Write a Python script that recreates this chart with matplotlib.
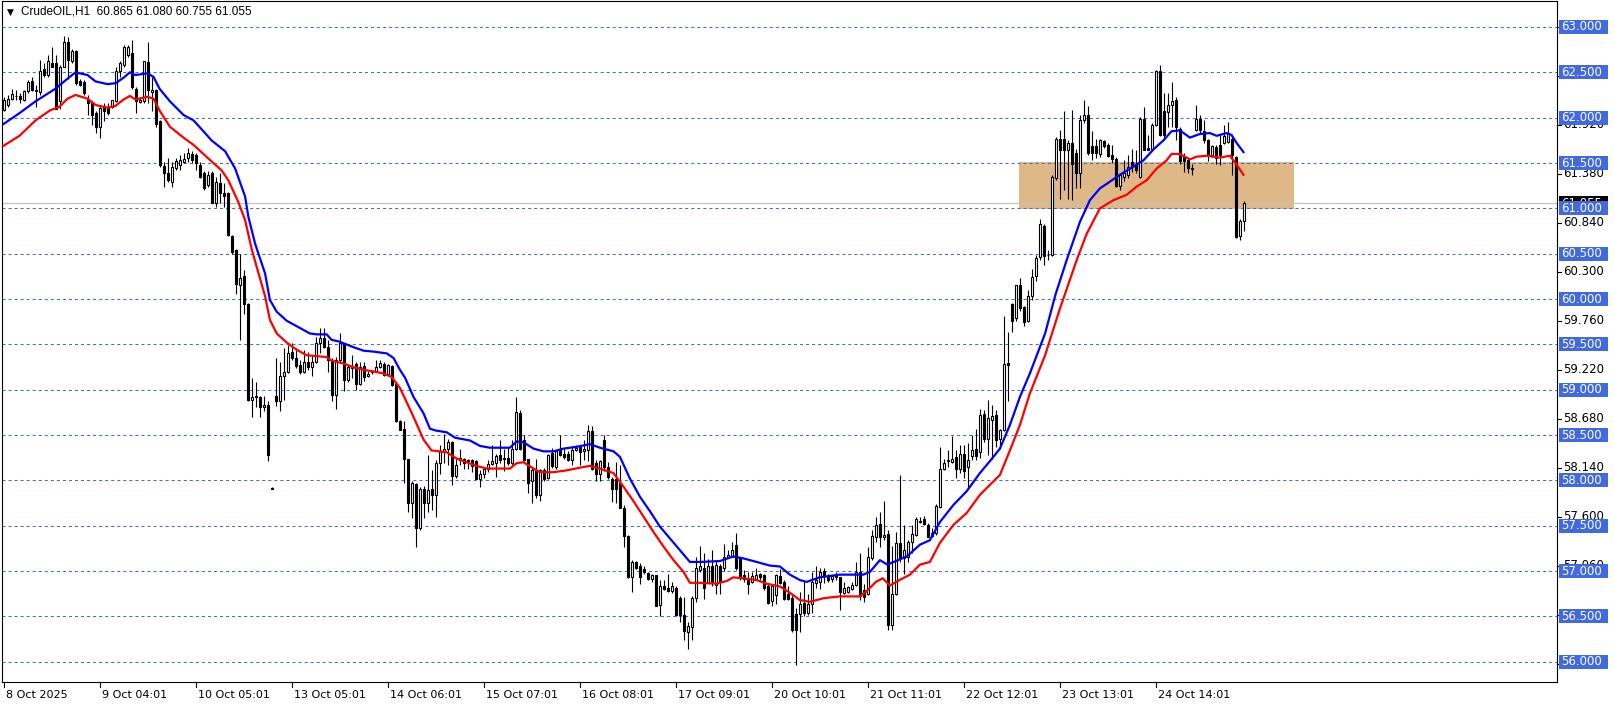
import matplotlib
matplotlib.use("Agg")
import matplotlib.pyplot as plt
import matplotlib.transforms as mtransforms
from matplotlib.patches import Rectangle
import numpy as np

# ---------------- data ----------------
title = "CrudeOIL,H1  60.865 61.080 60.755 61.055"

opens = [
    62.09, 62.14, 62.21, 62.24, 62.24, 62.20, 62.29, 62.40, 62.29, 62.28,
    62.54, 62.47, 62.60, 62.60, 62.18, 62.56, 62.84, 62.63, 62.73, 62.40,
    62.39, 62.21, 62.16, 62.05, 61.90, 62.13, 62.11, 62.12, 62.18, 62.51,
    62.58, 62.69, 62.71, 62.32, 62.17, 62.18, 62.61, 62.28, 62.31, 61.96,
    61.47, 61.39, 61.29, 61.45, 61.48, 61.51, 61.55, 61.60, 61.59, 61.48,
    61.39, 61.26, 61.39, 61.06, 61.28, 61.17, 61.17, 60.70, 60.54, 60.15,
    60.25, 59.95, 58.89, 58.93, 58.92, 58.81, 58.83, 57.91, 58.93, 58.87,
    59.15, 59.19, 59.42, 59.35, 59.27, 59.19, 59.31, 59.25, 59.31, 59.52,
    59.57, 59.47, 59.33, 58.94, 59.33, 59.50, 59.11, 59.24, 59.28, 59.06,
    59.26, 59.15, 59.21, 59.21, 59.25, 59.28, 59.17, 59.26, 59.06, 58.66,
    58.57, 58.23, 57.75, 57.96, 57.47, 57.91, 57.75, 57.90, 57.84, 58.19,
    58.31, 58.35, 58.42, 58.05, 58.25, 58.23, 58.21, 58.22, 58.21, 58.02,
    58.07, 58.12, 58.18, 58.19, 58.28, 58.23, 58.25, 58.19, 58.35, 58.74,
    58.44, 58.23, 57.99, 58.11, 57.84, 58.11, 58.03, 58.30, 58.15, 58.33,
    58.29, 58.29, 58.22, 58.33, 58.37, 58.32, 58.34, 58.54, 58.19, 58.07,
    58.45, 58.15, 58.01, 58.01, 57.97, 57.69, 57.39, 56.93, 57.10, 57.06,
    57.02, 56.98, 56.91, 56.96, 56.62, 56.83, 56.81, 56.78, 56.81, 56.70,
    56.51, 56.33, 56.38, 56.70, 57.01, 57.03, 56.88, 57.05, 56.85, 57.05,
    57.03, 57.16, 57.16, 57.29, 57.14, 56.96, 56.91, 56.88, 56.91, 56.97,
    56.96, 56.83, 56.67, 56.74, 56.95, 56.88, 56.75, 56.70, 56.53, 56.53,
    56.65, 56.54, 56.64, 56.87, 56.88, 57.00, 56.95, 56.91, 56.96, 56.93,
    56.76, 56.77, 56.80, 56.85, 56.99, 56.79, 56.75, 57.14, 57.38, 57.52,
    57.38, 57.41, 56.40, 56.75, 57.31, 57.14, 57.16, 57.32, 57.40, 57.55,
    57.57, 57.51, 57.39, 57.42, 57.71, 58.12, 58.21, 58.20, 58.26, 58.13,
    58.29, 58.15, 58.27, 58.35, 58.31, 58.73, 58.46, 58.67, 58.72, 58.46,
    58.55, 59.29, 59.95, 59.79, 60.15, 59.91, 59.76, 60.03, 60.25, 60.46,
    60.80, 60.48, 60.49, 61.33, 61.77, 61.76, 61.64, 61.72, 61.61, 61.39,
    61.97, 62.03, 61.69, 61.69, 61.60, 61.74, 61.70, 61.59, 61.54, 61.25,
    61.35, 61.37, 61.51, 61.49, 61.35, 61.99, 61.67, 61.65, 61.92, 62.51,
    62.07, 62.06, 62.14, 62.20, 61.87, 61.57, 61.53, 61.45, 61.86, 61.98,
    61.85, 61.75, 61.59, 61.68, 61.70, 61.72, 61.73, 61.77, 61.57, 60.70,
    60.865,
]
highs = [
    62.23, 62.25, 62.32, 62.31, 62.27, 62.31, 62.42, 62.45, 62.36, 62.64,
    62.60, 62.69, 62.78, 62.69, 62.58, 62.90, 62.89, 62.76, 62.75, 62.43,
    62.42, 62.25, 62.18, 62.07, 62.13, 62.16, 62.16, 62.20, 62.56, 62.62,
    62.80, 62.80, 62.86, 62.34, 62.23, 62.63, 62.84, 62.45, 62.32, 61.97,
    61.51, 61.55, 61.51, 61.55, 61.59, 61.61, 61.66, 61.63, 61.61, 61.51,
    61.41, 61.41, 61.41, 61.35, 61.39, 61.28, 61.18, 60.71, 60.55, 60.50,
    60.32, 59.96, 59.13, 59.09, 58.93, 58.93, 58.87, 57.93, 59.35, 59.31,
    59.46, 59.49, 59.52, 59.46, 59.33, 59.44, 59.42, 59.38, 59.58, 59.68,
    59.68, 59.55, 59.35, 59.36, 59.62, 59.52, 59.27, 59.38, 59.31, 59.31,
    59.31, 59.21, 59.22, 59.33, 59.33, 59.31, 59.28, 59.27, 59.07, 58.67,
    58.65, 58.24, 57.99, 57.97, 57.93, 57.94, 58.28, 58.11, 58.22, 58.39,
    58.51, 58.46, 58.43, 58.24, 58.35, 58.25, 58.23, 58.23, 58.22, 58.11,
    58.14, 58.22, 58.39, 58.29, 58.44, 58.35, 58.37, 58.44, 58.92, 58.78,
    58.50, 58.24, 58.14, 58.24, 58.12, 58.14, 58.29, 58.36, 58.33, 58.50,
    58.35, 58.32, 58.38, 58.39, 58.39, 58.45, 58.61, 58.60, 58.22, 58.22,
    58.50, 58.20, 58.04, 58.20, 58.17, 57.73, 57.40, 57.12, 57.11, 57.09,
    57.05, 56.99, 56.97, 56.96, 56.90, 56.90, 56.97, 56.88, 56.83, 56.72,
    56.71, 56.44, 56.72, 57.16, 57.28, 57.20, 57.13, 57.23, 57.12, 57.08,
    57.30, 57.23, 57.32, 57.42, 57.16, 57.01, 56.99, 56.99, 57.03, 56.98,
    56.97, 56.86, 56.86, 56.97, 57.02, 56.90, 56.83, 56.75, 56.59, 56.77,
    56.90, 56.75, 56.99, 57.06, 57.03, 57.03, 56.97, 56.96, 56.99, 56.93,
    56.88, 56.83, 56.88, 57.10, 57.20, 56.86, 57.27, 57.45, 57.60, 57.65,
    57.77, 57.45, 57.28, 57.43, 58.06, 57.51, 57.34, 57.51, 57.60, 57.60,
    57.61, 57.53, 57.47, 57.74, 58.37, 58.24, 58.34, 58.49, 58.33, 58.39,
    58.39, 58.41, 58.50, 58.57, 58.79, 58.78, 58.89, 58.83, 58.78, 58.57,
    59.81, 59.64, 59.96, 60.16, 60.23, 59.92, 60.10, 60.33, 60.49, 60.88,
    60.83, 60.54, 61.37, 61.79, 61.86, 62.07, 61.75, 62.09, 61.65, 62.03,
    62.20, 62.13, 61.85, 61.77, 61.76, 61.75, 61.72, 61.70, 61.57, 61.39,
    61.53, 61.59, 61.65, 61.64, 62.01, 62.12, 61.81, 61.94, 62.53, 62.58,
    62.27, 62.27, 62.39, 62.23, 61.90, 61.61, 61.54, 61.49, 62.14, 62.03,
    61.97, 61.76, 61.70, 61.70, 61.81, 61.92, 61.95, 61.80, 61.58, 60.88,
    61.08,
]
lows = [
    62.07, 62.12, 62.19, 62.19, 62.16, 62.18, 62.27, 62.29, 62.12, 62.25,
    62.45, 62.45, 62.56, 62.10, 62.10, 62.56, 62.43, 62.60, 62.36, 62.35,
    62.25, 62.03, 61.92, 61.83, 61.78, 61.96, 62.03, 62.11, 62.17, 62.45,
    62.56, 62.67, 62.32, 62.05, 62.16, 62.16, 62.16, 62.07, 61.90, 61.46,
    61.24, 61.29, 61.24, 61.42, 61.42, 61.50, 61.51, 61.50, 61.42, 61.33,
    61.20, 61.24, 61.06, 61.02, 61.06, 61.02, 60.69, 60.50, 60.06, 59.55,
    59.84, 58.87, 58.70, 58.81, 58.70, 58.76, 58.21, 57.90, 58.82, 58.76,
    58.89, 59.18, 59.33, 59.24, 59.17, 59.18, 59.22, 59.15, 59.29, 59.40,
    59.46, 59.19, 58.87, 58.79, 59.29, 58.99, 59.08, 59.13, 59.00, 59.05,
    59.10, 59.14, 59.17, 59.20, 59.24, 59.15, 59.16, 59.04, 58.64, 58.55,
    57.97, 57.65, 57.59, 57.27, 57.45, 57.59, 57.65, 57.67, 57.60, 58.07,
    58.19, 58.17, 57.95, 58.03, 58.17, 58.12, 58.12, 58.09, 58.01, 57.93,
    58.03, 58.09, 58.17, 58.04, 58.19, 58.10, 58.17, 58.17, 58.33, 58.33,
    58.21, 57.86, 57.75, 57.80, 57.77, 57.99, 58.01, 58.14, 58.13, 58.27,
    58.24, 58.21, 58.17, 58.32, 58.17, 58.22, 58.21, 58.11, 57.99, 57.99,
    58.10, 58.02, 57.76, 57.75, 57.69, 57.27, 56.92, 56.77, 57.02, 56.86,
    56.97, 56.90, 56.88, 56.61, 56.50, 56.79, 56.77, 56.76, 56.50, 56.44,
    56.24, 56.14, 56.24, 56.66, 56.99, 56.69, 56.87, 56.83, 56.75, 56.75,
    57.00, 57.14, 57.15, 57.01, 56.90, 56.88, 56.75, 56.87, 56.90, 56.90,
    56.79, 56.64, 56.61, 56.64, 56.86, 56.68, 56.68, 56.33, 55.96, 56.33,
    56.50, 56.52, 56.54, 56.81, 56.80, 56.87, 56.88, 56.88, 56.90, 56.57,
    56.75, 56.76, 56.79, 56.84, 56.68, 56.66, 56.74, 57.12, 57.32, 57.27,
    57.34, 56.35, 56.35, 56.74, 57.10, 56.97, 57.10, 57.20, 57.39, 57.53,
    57.51, 57.37, 57.37, 57.40, 57.70, 58.11, 58.15, 58.19, 58.03, 58.08,
    58.03, 57.91, 58.22, 58.22, 58.25, 58.42, 58.28, 58.24, 58.37, 58.35,
    58.54, 58.87, 59.64, 59.76, 59.87, 59.70, 59.75, 59.99, 60.20, 60.43,
    60.38, 60.43, 60.47, 61.31, 61.10, 61.20, 61.10, 61.09, 61.22, 61.22,
    61.94, 61.59, 61.53, 61.56, 61.57, 61.67, 61.57, 61.50, 61.24, 61.20,
    61.30, 61.33, 61.40, 61.39, 61.34, 61.64, 61.64, 61.64, 61.91, 61.80,
    61.75, 61.90, 61.90, 61.75, 61.49, 61.40, 61.39, 61.37, 61.85, 61.83,
    61.72, 61.52, 61.57, 61.49, 61.48, 61.71, 61.72, 61.37, 60.67, 60.65,
    60.755,
]
closes = [
    62.20, 62.21, 62.26, 62.24, 62.21, 62.29, 62.39, 62.31, 62.30, 62.51,
    62.47, 62.62, 62.56, 62.10, 62.56, 62.84, 62.64, 62.73, 62.38, 62.36,
    62.27, 62.16, 62.03, 61.90, 62.11, 62.07, 62.05, 62.19, 62.51, 62.60,
    62.78, 62.78, 62.34, 62.18, 62.20, 62.62, 62.30, 62.31, 61.93, 61.48,
    61.39, 61.31, 61.46, 61.52, 61.53, 61.54, 61.61, 61.53, 61.50, 61.35,
    61.22, 61.37, 61.06, 61.29, 61.17, 61.14, 60.71, 60.52, 60.17, 60.23,
    59.95, 58.89, 58.92, 58.92, 58.81, 58.83, 58.28, 57.91, 58.87, 59.15,
    59.19, 59.41, 59.35, 59.26, 59.19, 59.30, 59.25, 59.31, 59.52, 59.57,
    59.47, 59.33, 58.94, 59.33, 59.52, 59.11, 59.25, 59.25, 59.06, 59.25,
    59.14, 59.17, 59.19, 59.25, 59.29, 59.16, 59.27, 59.05, 58.66, 58.56,
    58.23, 57.75, 57.97, 57.47, 57.90, 57.75, 57.89, 57.84, 58.19, 58.32,
    58.35, 58.42, 58.05, 58.17, 58.22, 58.19, 58.22, 58.16, 58.02, 58.07,
    58.12, 58.18, 58.21, 58.27, 58.22, 58.25, 58.19, 58.35, 58.75, 58.35,
    58.22, 57.97, 58.11, 57.84, 58.11, 58.02, 58.28, 58.16, 58.32, 58.28,
    58.26, 58.22, 58.34, 58.36, 58.31, 58.35, 58.54, 58.13, 58.07, 58.21,
    58.15, 58.04, 57.91, 57.91, 57.69, 57.39, 56.93, 57.10, 57.03, 56.93,
    56.99, 56.91, 56.96, 56.61, 56.83, 56.80, 56.78, 56.83, 56.51, 56.51,
    56.34, 56.39, 56.70, 57.03, 57.05, 56.81, 57.05, 56.88, 57.07, 56.88,
    57.16, 57.18, 57.23, 57.03, 56.92, 56.91, 56.86, 56.94, 56.96, 56.93,
    56.81, 56.65, 56.83, 56.96, 56.87, 56.69, 56.69, 56.35, 56.35, 56.64,
    56.54, 56.64, 56.88, 56.90, 56.99, 56.94, 56.90, 56.94, 56.93, 56.77,
    56.81, 56.82, 56.85, 56.99, 56.72, 56.71, 57.16, 57.39, 57.51, 57.38,
    57.40, 56.40, 56.75, 57.31, 57.14, 57.23, 57.32, 57.41, 57.57, 57.54,
    57.52, 57.38, 57.42, 57.72, 58.13, 58.19, 58.22, 58.24, 58.13, 58.29,
    58.10, 58.22, 58.34, 58.27, 58.72, 58.46, 58.69, 58.71, 58.45, 58.55,
    59.28, 59.27, 59.76, 60.15, 59.90, 59.75, 60.03, 60.24, 60.45, 60.83,
    60.47, 60.49, 61.35, 61.76, 61.64, 61.64, 61.72, 61.49, 61.39, 61.97,
    62.03, 61.61, 61.61, 61.61, 61.75, 61.69, 61.58, 61.54, 61.25, 61.37,
    61.39, 61.46, 61.47, 61.42, 61.98, 61.64, 61.64, 61.92, 62.52, 61.81,
    61.81, 62.14, 62.18, 61.90, 61.52, 61.52, 61.45, 61.43, 61.98, 61.86,
    61.75, 61.59, 61.69, 61.56, 61.59, 61.80, 61.83, 61.59, 60.68, 60.86,
    61.055,
]

# upper (blue) and lower (red) moving-average lines, sampled at bar positions
blue_idx = [0, 4, 8, 13, 16, 18, 21, 23, 26, 28, 30, 31.6, 33, 36, 37.5, 39, 41.6,
            45, 47.5, 50.4, 52, 55.4, 57.9, 60.4, 61.2, 62.9, 65.4, 66.6, 68.3,
            70.8, 73.3, 76.6, 78.3, 80.8, 82, 84, 87.4, 90, 92.5, 95.8, 97.5, 99.1,
            100.4, 102.5, 105, 106.6, 108, 110.8, 112.9, 116.6, 119.1, 121.6,
            126.6, 128.3, 130, 132.5, 135, 137.5, 140, 143.3, 146.6, 149.1, 152.5,
            154.1, 156.6, 159.1, 161.6, 164.1, 166.6, 169.1, 171.6, 174.1, 179.1,
            182.4, 184.9, 188.3, 191.6, 194.1, 196.6, 199.1, 200.8, 204, 209,
            214.9, 216.6, 219.1, 221, 222, 225.8, 229.1, 231.6, 234.1, 237.5,
            240.8, 244.1, 247.5, 249.1, 251.6, 254.1, 256.6, 260.4, 263, 265.8,
            269.1, 271.6, 274.1, 275.8, 279.1, 282.5, 285, 287.5, 290, 292,
            294.1, 296.6, 299.1, 301.6, 303.3, 305.8, 307, 308.3, 310]
blue_val = [61.93, 62.05, 62.18, 62.32, 62.43, 62.50, 62.47, 62.40, 62.37, 62.38,
            62.44, 62.50, 62.47, 62.49, 62.45, 62.32, 62.18, 62.03, 61.97, 61.83,
            61.75, 61.63, 61.44, 61.13, 60.91, 60.61, 60.28, 59.99, 59.86, 59.76,
            59.70, 59.62, 59.61, 59.61, 59.55, 59.53, 59.47, 59.43, 59.42, 59.40,
            59.35, 59.22, 59.13, 58.92, 58.74, 58.57, 58.55, 58.53, 58.47, 58.44,
            58.38, 58.36, 58.36, 58.43, 58.42, 58.35, 58.32, 58.32, 58.35, 58.37,
            58.40, 58.36, 58.32, 58.26, 58.02, 57.82, 57.66, 57.49, 57.36, 57.23,
            57.10, 57.10, 57.11, 57.16, 57.14, 57.10, 57.06, 57.05, 56.96, 56.90,
            56.88, 56.93, 56.96, 56.96, 56.99, 57.12, 57.07, 57.09, 57.16, 57.29,
            57.34, 57.54, 57.73, 57.88, 58.08, 58.26, 58.35, 58.61, 58.92, 59.18,
            59.62, 60.05, 60.43, 60.85, 61.09, 61.22, 61.27, 61.37, 61.46, 61.53,
            61.65, 61.75, 61.85, 61.86, 61.78, 61.82, 61.83, 61.80, 61.83, 61.81,
            61.72, 61.62]
red_idx = [0, 4, 8, 11.6, 14, 16, 18, 21, 23, 26, 28, 30, 31.6, 33, 36, 37.5, 39,
           41.6, 45, 47.5, 51.2, 54.5, 56.2, 58.7, 60.4, 62.1, 65.4, 66.6, 68.3,
           70.8, 73.3, 75.8, 78.3, 80.8, 82, 84.9, 87.4, 90, 92.5, 95, 97, 99.1,
           100.4, 102.5, 105, 107, 110.8, 113.3, 118.2, 120.8, 126.6, 128.3, 130,
           132.5, 134.1, 137.5, 140.8, 144.1, 146.6, 149.1, 152.5, 155, 157.5, 160,
           162.5, 165, 167.5, 170, 171.6, 174.1, 178.3, 180.8, 182.4, 184.9, 188.3,
           190.8, 194.1, 196.6, 199.1, 201.6, 205, 209, 214, 215.6, 218.1, 219.8,
           221.6, 224, 226.6, 229.1, 231.6, 234.1, 237.5, 240.8, 244.1, 247.5,
           249.1, 251.6, 254.1, 256.6, 260.4, 264, 268.3, 270.8, 274.1, 277.5,
           280.8, 283.3, 285.8, 288.3, 290.8, 292, 294.1, 296.6, 298.3, 300.8,
           304.1, 306.6, 308.3, 310]
red_val = [61.69, 61.80, 61.97, 62.08, 62.12, 62.21, 62.25, 62.21, 62.14, 62.11,
           62.13, 62.20, 62.24, 62.20, 62.23, 62.21, 62.08, 61.90, 61.78, 61.70,
           61.55, 61.42, 61.31, 61.07, 60.87, 60.54, 60.03, 59.77, 59.62, 59.52,
           59.44, 59.38, 59.37, 59.36, 59.32, 59.29, 59.25, 59.22, 59.20, 59.18,
           59.14, 59.02, 58.90, 58.70, 58.45, 58.33, 58.31, 58.24, 58.16, 58.13,
           58.13, 58.19, 58.20, 58.13, 58.09, 58.09, 58.11, 58.14, 58.16, 58.13,
           58.08, 57.93, 57.77, 57.60, 57.43, 57.27, 57.12, 56.99, 56.87, 56.87,
           56.86, 56.89, 56.93, 56.92, 56.90, 56.86, 56.83, 56.76, 56.68, 56.66,
           56.70, 56.72, 56.72, 56.77, 56.88, 56.92, 56.84, 56.90, 56.96, 57.07,
           57.10, 57.31, 57.51, 57.64, 57.84, 57.99, 58.06, 58.33, 58.61, 58.96,
           59.38, 59.88, 60.43, 60.72, 61.00, 61.09, 61.15, 61.24, 61.31, 61.44,
           61.53, 61.60, 61.60, 61.54, 61.57, 61.58, 61.56, 61.58, 61.48, 61.37]

grid_levels = [56.0, 56.5, 57.0, 57.5, 58.0, 58.5, 59.0, 59.5, 60.0, 60.5,
               61.0, 61.5, 62.0, 62.5, 63.0]
scale_levels = [63.000, 62.460, 61.920, 61.380, 60.840, 60.300, 59.760, 59.220,
                58.680, 58.140, 57.600, 57.060, 56.520, 55.980]
current_price = 61.055
zone_bars = (253.9, 322.6)
zone_prices = (60.99, 61.51)
date_tick_bars = [0, 24, 48, 72, 96, 120, 144, 168, 192, 216, 240, 264, 288]
date_labels = ["8 Oct 2025", "9 Oct 04:01", "10 Oct 05:01", "13 Oct 05:01",
               "14 Oct 06:01", "15 Oct 07:01", "16 Oct 08:01", "17 Oct 09:01",
               "20 Oct 10:01", "21 Oct 11:01", "22 Oct 12:01", "23 Oct 13:01",
               "24 Oct 14:01"]

# ---------------- layout ----------------
W, H = 1614, 706
fig = plt.figure(figsize=(W / 100, H / 100), dpi=100)
fig.patch.set_facecolor("white")
AX_L, AX_R, AX_T, AX_B = 2, 1557, 1, 682
ax = fig.add_axes([AX_L / W, 1 - AX_B / H, (AX_R - AX_L) / W, (AX_B - AX_T) / H])
PPU = 90.67          # pixels per 1.0 of price
Y63 = 27             # pixel row of 63.000
ax.set_ylim(63 - (AX_B - Y63) / PPU, 63 + (Y63 - AX_T) / PPU)
BAR_PX = 4.0
X0 = 3.5
ax.set_xlim((AX_L - X0) / BAR_PX, (AX_R - X0) / BAR_PX)
ax.set_xticks([])
ax.set_yticks([])
for s in ax.spines.values():
    s.set_linewidth(0.8)
    s.set_color("black")

GRID = "#4169E1"

# zone rectangle
ax.add_patch(Rectangle((zone_bars[0], zone_prices[0]), zone_bars[1] - zone_bars[0],
                       zone_prices[1] - zone_prices[0], facecolor="#DEB887",
                       edgecolor="none", zorder=1))

# grid
for lv in grid_levels:
    ax.axhline(lv, color=GRID, lw=0.75, dashes=(2.9, 2.9), zorder=1.5)

# current price line
ax.axhline(current_price, color="#C0C0C0", lw=0.8, zorder=2)

# candles
o = np.array(opens); h = np.array(highs); l = np.array(lows); c = np.array(closes)
idx = np.arange(len(o))
up = c >= o
ax.vlines(idx, l, h, color="black", lw=0.8, zorder=3)
bb = np.minimum(o, c)
bh = np.maximum(np.abs(c - o), 0.004)
ax.bar(idx[up], bh[up], bottom=bb[up], width=0.5, facecolor="white",
       edgecolor="black", linewidth=0.8, zorder=4)
ax.bar(idx[~up], bh[~up], bottom=bb[~up], width=0.5, facecolor="black",
       edgecolor="black", linewidth=0.8, zorder=4)

# moving averages
ax.plot(blue_idx, blue_val, color="#0000FF", lw=1.6, zorder=5, solid_joinstyle="round")
ax.plot(red_idx, red_val, color="#FF0000", lw=1.6, zorder=5, solid_joinstyle="round")

# ---------------- right price scale ----------------
ty = mtransforms.blended_transform_factory(ax.transAxes, ax.transData)
def axx(px):
    return (px - AX_L) / (AX_R - AX_L)

for v in scale_levels:
    ax.plot([axx(AX_R), axx(AX_R + 4)], [v, v], color="black", lw=0.8,
            transform=ty, clip_on=False, zorder=6)
    ax.text(axx(1563), v, f"{v:.3f}", transform=ty, color="black", fontsize=8.5,
            ha="left", va="center", clip_on=False, zorder=6)

# current price box (black)
ax.add_patch(Rectangle((axx(1559), current_price - 7 / PPU), axx(1608) - axx(1559),
                       14 / PPU, transform=ty, facecolor="black", edgecolor="none",
                       clip_on=False, zorder=7))
ax.text(axx(1561), current_price, f"{current_price:.3f}", transform=ty, color="white",
        fontsize=8.5, ha="left", va="center", clip_on=False, zorder=7.5)

for v in grid_levels:
    ax.add_patch(Rectangle((axx(1559), v - 7 / PPU), axx(1608) - axx(1559), 14 / PPU,
                           transform=ty, facecolor=GRID, edgecolor="none",
                           clip_on=False, zorder=8))
    ax.text(axx(1561), v, f"{v:.3f}", transform=ty, color="white", fontsize=8.5,
            ha="left", va="center", clip_on=False, zorder=9)

# ---------------- bottom time scale ----------------
tx = mtransforms.blended_transform_factory(ax.transData, ax.transAxes)
AXH = AX_B - AX_T
for b, lab in zip(date_tick_bars, date_labels):
    ax.plot([b, b], [0, -5 / AXH], color="black", lw=0.8, transform=tx, clip_on=False)
    ax.text(b + 0.5, -13 / AXH, lab, transform=tx, fontsize=8, ha="left",
            va="center", clip_on=False)

# ---------------- title ----------------
fig.text(7 / W, 1 - 12 / H, "\u25BC", fontsize=6.5, ha="left", va="center")
fig.text(21 / W, 1 - 12 / H, title, fontsize=8.5, family="Liberation Sans",
         ha="left", va="center")

fig.savefig("out.png", dpi=100, facecolor="white")
